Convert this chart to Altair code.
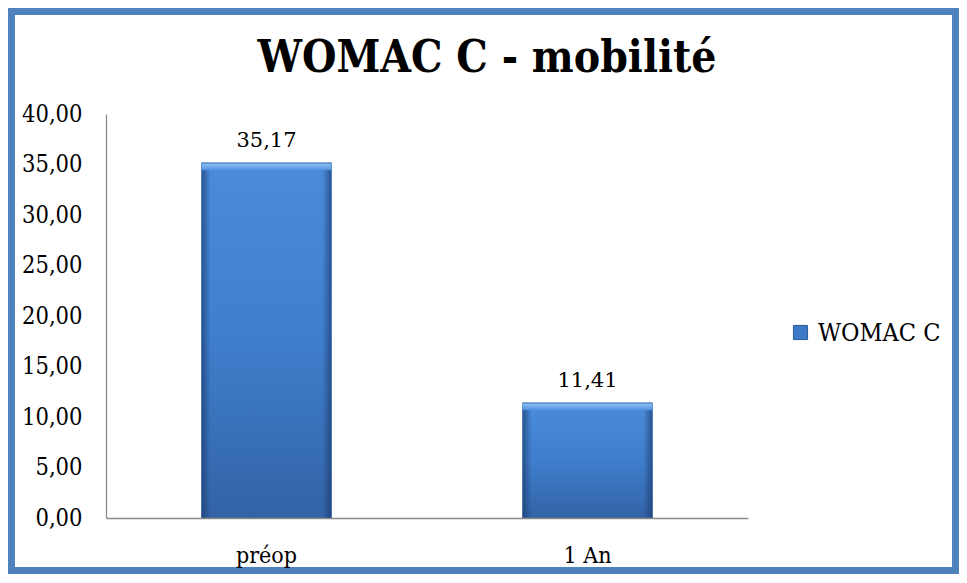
import altair as alt
import pandas as pd

# ---- data ----
categories = ["préop", "1 An"]
values = [35.17, 11.41]
series_name = "WOMAC C"
y_ticks = [0, 5, 10, 15, 20, 25, 30, 35, 40]
title_text = "WOMAC C - mobilité"

df = pd.DataFrame({"periode": categories, "valeur": values, "serie": [series_name] * len(categories)})

# ---- layout (pixels) ----
W, H = 951, 566
PL, PT = 98, 106
VW, VH = 642, 404
PR = W - PL - VW
PB = H - PT - VH
FRAME = 7
FONT_C = "DejaVu Serif Condensed"
FONT_R = "DejaVu Serif"
AXIS_GREY = "#8A8A8A"

label_expr = "replace(format(datum.value, '.2f'), '.', ',')"

x_enc = alt.X(
    "periode:N",
    sort=categories,
    scale=alt.Scale(paddingInner=0.595, paddingOuter=0.2975),
    axis=alt.Axis(
        title=None, labelAngle=0, ticks=False, grid=False, zindex=2,
        domainColor=AXIS_GREY, domainWidth=1.3,
        labelFont=FONT_C, labelFontSize=23, labelColor="#000000",
        labelPadding=44, labelBaseline="alphabetic",
    ),
)
y_scale = alt.Scale(domain=[0, 40], nice=False, zero=True)
y_enc = alt.Y(
    "valeur:Q",
    scale=y_scale,
    axis=alt.Axis(
        title=None, values=y_ticks, ticks=False, grid=False, zindex=2,
        domainColor=AXIS_GREY, domainWidth=1.3,
        labelExpr=label_expr, labelFont=FONT_C, labelFontSize=23.5,
        labelColor="#000000", labelPadding=24,
    ),
)

one = pd.DataFrame({"k": [0]})
frame = alt.Chart(one).mark_rect(color="white").encode(
    x=alt.value(-PL + FRAME), x2=alt.value(VW + PR - FRAME),
    y=alt.value(-PT + FRAME), y2=alt.value(VH + PB - FRAME),
)

title = alt.Chart(one).mark_text(
    font=FONT_C, fontSize=44, fontWeight="bold", color="#000000",
    align="center", baseline="alphabetic",
).encode(x=alt.value(381), y=alt.value(-42), text=alt.value(title_text))

base = alt.Chart(df).encode(x=x_enc)

bars = base.mark_bar().encode(
    y=y_enc,
    color=alt.Color(
        "serie:N",
        scale=alt.Scale(range=["#3C79C6"]),
        legend=alt.Legend(
            title=None, orient="none", legendX=682, legendY=206, padding=0,
            symbolType="square", symbolSize=200, symbolStrokeColor="#2B5A94",
            symbolStrokeWidth=1, labelFont=FONT_C, labelFontSize=25,
            labelColor="#000000", labelOffset=5, zindex=2,
        ),
    ),
)

grad_main = alt.LinearGradient(
    gradient="linear", x1=0, x2=0, y1=0, y2=1,
    stops=[
        alt.GradientStop(color="#4A8BDA", offset=0),
        alt.GradientStop(color="#3F7ECC", offset=0.5),
        alt.GradientStop(color="#3263A6", offset=1),
    ],
)
bars_grad = base.mark_bar(color=grad_main).encode(y=y_enc)

grad_edges = alt.LinearGradient(
    gradient="linear", x1=0, x2=1, y1=0, y2=0,
    stops=[
        alt.GradientStop(color="rgba(25,55,105,0.65)", offset=0),
        alt.GradientStop(color="rgba(25,55,105,0.0)", offset=0.07),
        alt.GradientStop(color="rgba(25,55,105,0.0)", offset=0.93),
        alt.GradientStop(color="rgba(25,55,105,0.65)", offset=1),
    ],
)
bars_edges = base.mark_bar(color=grad_edges).encode(y=y_enc)

grad_top = alt.LinearGradient(
    gradient="linear", x1=0, x2=0, y1=0, y2=1,
    stops=[
        alt.GradientStop(color="#3A6DB3", offset=0),
        alt.GradientStop(color="#86BCF4", offset=0.2),
        alt.GradientStop(color="#4D8DDB", offset=1),
    ],
)
bars_top = base.mark_bar(color=grad_top).transform_calculate(
    bas="datum.valeur - 0.75"
).encode(y=y_enc, y2="bas:Q")

labels = base.mark_text(
    dy=-16, baseline="alphabetic", align="center", font=FONT_R, fontSize=21, color="#000000"
).transform_calculate(
    lbl="replace(format(datum.valeur, '.2f'), '.', ',')"
).encode(y=y_enc, text="lbl:N")

chart = alt.layer(frame, title, bars, bars_grad, bars_edges, bars_top, labels).properties(
    width=VW,
    height=VH,
    autosize=alt.AutoSizeParams(type="none"),
    padding={"left": PL, "top": PT, "right": PR, "bottom": PB},
).configure(background="#4F81BD").configure_view(stroke=None)

chart.save("out.html", embed_options={"renderer": "svg", "actions": False})
